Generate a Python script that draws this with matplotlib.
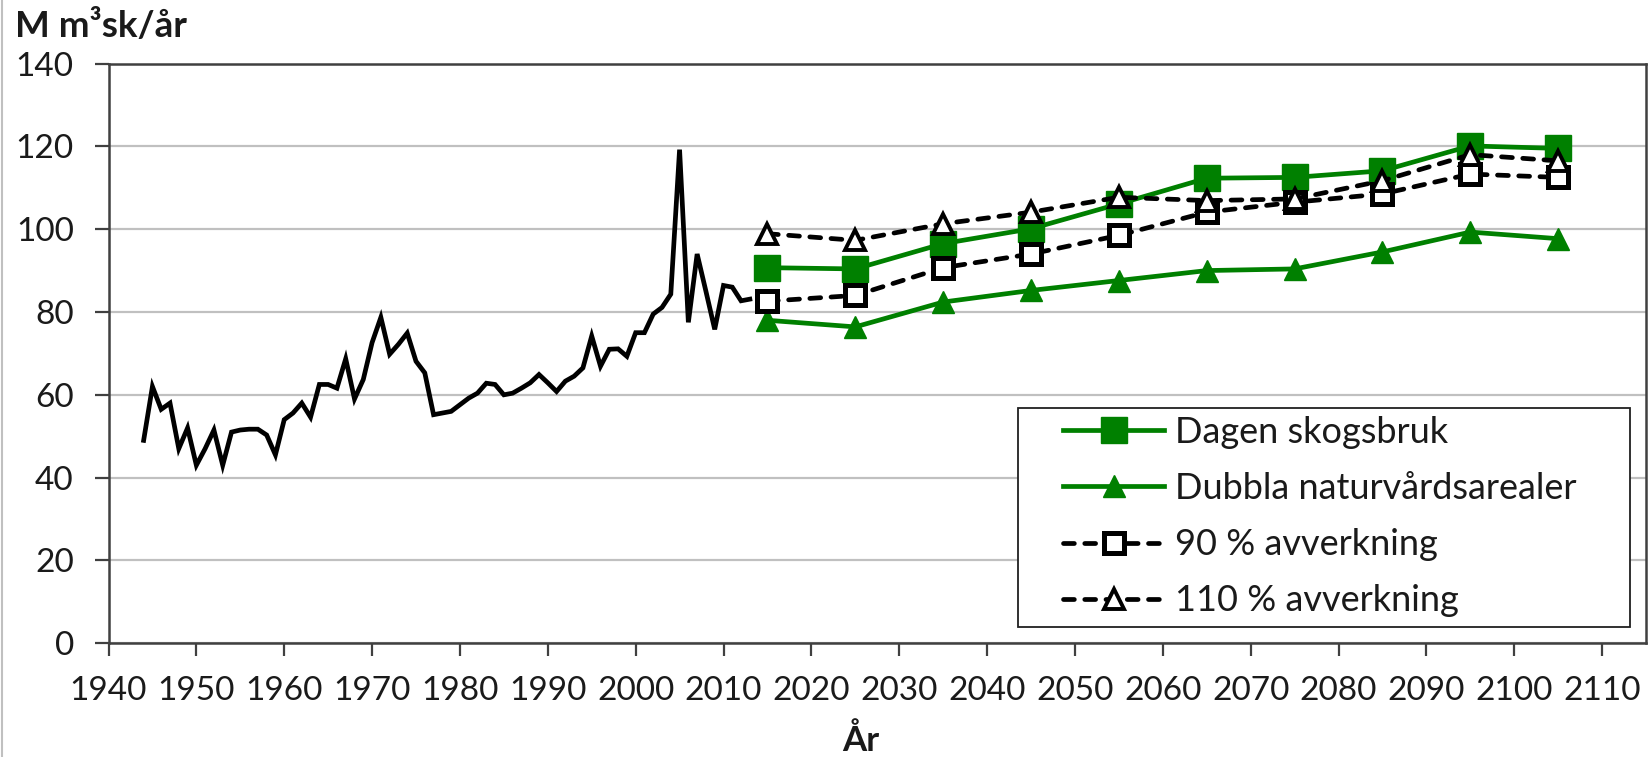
import matplotlib
matplotlib.use("Agg")
import matplotlib.pyplot as plt
from matplotlib.patches import Rectangle
from matplotlib.lines import Line2D

# ---------------- data ----------------
hist_years = list(range(1944, 2014))
hist_values = [49, 62, 56.5, 58, 47, 52, 43, 47, 51.5, 43,
               51, 51.5, 51.7, 51.7, 50.3, 45.5, 54, 55.6, 58, 54.6,
               62.5, 62.5, 61.6, 68.7, 59, 63.7, 72.6, 78.7, 69.8, 72.2,
               74.9, 68.1, 65.3, 55.2, 55.6, 56, 57.6, 59.2, 60.4, 62.8,
               62.5, 60, 60.4, 61.6, 62.9, 64.9, 62.9, 60.8, 63.3, 64.5,
               66.5, 74.2, 66.9, 71, 71.1, 69.3, 75, 75, 79.5, 81.1,
               84.3, 119.2, 77.5, 94, 85, 75.8, 86.4, 86, 82.7, 83.1]

proj_years = [2015, 2025, 2035, 2045, 2055, 2065, 2075, 2085, 2095, 2105]
dagen = [90.7, 90.4, 96.5, 100.1, 106.1, 112.3, 112.5, 114.1, 120.1, 119.5]
dubbla = [78.0, 76.4, 82.4, 85.2, 87.6, 90.0, 90.4, 94.5, 99.3, 97.7]
avv90 = [82.6, 84.0, 90.7, 94.0, 98.5, 104.1, 106.5, 108.5, 113.3, 112.5]
avv110 = [98.9, 97.3, 101.3, 104.1, 107.7, 106.9, 107.3, 111.7, 118.0, 116.5]

labels = ["Dagen skogsbruk", "Dubbla naturvårdsarealer",
          "90 % avverkning", "110 % avverkning"]
x_ticks = list(range(1940, 2111, 10))
y_ticks = list(range(0, 141, 20))

# ---------------- figure ----------------
W, H = 1651, 757
fig = plt.figure(figsize=(W / 100, H / 100), dpi=100)
plt.rcParams['font.family'] = ['Lato', 'DejaVu Sans']

def fx(px):
    return px / W

def fy(py):
    return 1 - py / H

ax = fig.add_axes([fx(108.5), fy(643.3), fx(1646) - fx(108.5), fy(63.5) - fy(643.3)])
ax.set_xlim(1940, 2115)
ax.set_ylim(0, 140)
ax.set_xticks(x_ticks)
ax.set_yticks(y_ticks)
ax.grid(axis='y', color='#c0c0c0', lw=1.6, zorder=0)
ax.set_axisbelow(True)
for s in ax.spines.values():
    s.set_color('#404040')
    s.set_linewidth(1.8)
ax.tick_params(axis='both', direction='out', color='#404040', width=1.6,
               labelsize=24, labelcolor='#1a1a1a')
ax.tick_params(axis='x', length=9.7, pad=14)
ax.tick_params(axis='y', length=10, pad=15)

green = '#008000'
lw = 3.4

ax.plot(hist_years, hist_values, color='black', lw=lw, solid_joinstyle='miter', zorder=3)

ax.plot(proj_years, dagen, color=green, lw=lw, marker='s', ms=19, mfc=green, mec=green,
        label=labels[0], zorder=4)
ax.plot(proj_years, dubbla, color=green, lw=lw, marker='^', ms=16, mfc=green, mec=green,
        label=labels[1], zorder=4)
ax.plot(proj_years, avv90, color='black', lw=lw, dashes=(2.3, 2.2), dash_capstyle='round',
        marker='s', ms=14, mfc='white', mec='black', mew=3.6, label=labels[2], zorder=5)
ax.plot(proj_years, avv110, color='black', lw=lw, dashes=(2.3, 2.2), dash_capstyle='round',
        marker='^', ms=14, mfc='white', mec='black', mew=2.8, label=labels[3], zorder=5)

# legend frame drawn manually (in axes, below legend), legend without frame
ax.add_patch(Rectangle((fx(1018), fy(627)), fx(1630) - fx(1018), fy(408) - fy(627),
                       transform=fig.transFigure, facecolor='white', clip_on=False,
                       edgecolor='#202020', lw=1.3, zorder=6))
leg = ax.legend(loc='upper left', bbox_to_anchor=(fx(1063), fy(416)),
                bbox_transform=fig.transFigure, frameon=False, fontsize=26,
                handlelength=2.8, handletextpad=0.3, labelspacing=0.64,
                borderpad=0, borderaxespad=0)
leg.set_zorder(7)
for t in leg.get_texts():
    t.set_color('#1a1a1a')

# titles
fig.text(fx(15), fy(37), 'M m³sk/år', fontsize=26.5, fontweight='bold',
         color='#1a1a1a', ha='left', va='baseline')
fig.text(fx(861), fy(751), 'År', fontsize=25, fontweight='bold',
         color='#1a1a1a', ha='center', va='baseline')

# light left border
fig.add_artist(Line2D([fx(1.5), fx(1.5)], [0, 1], transform=fig.transFigure,
                      color='#c0c0c0', lw=1.5))

fig.savefig('out.png', dpi=100)
